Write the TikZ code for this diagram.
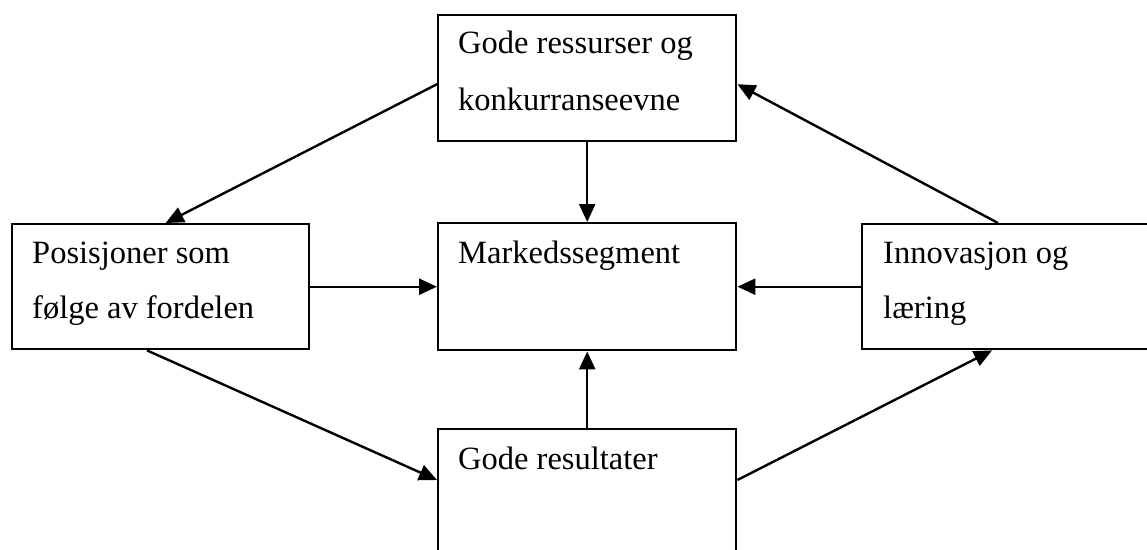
\documentclass[tikz,border=0pt]{standalone}
\usepackage{fontspec}
\setmainfont{Liberation Serif}
\usetikzlibrary{arrows.meta}
\begin{document}
\begin{tikzpicture}[x=1pt,y=-1pt,
  box/.style={draw, line width=2.4pt, rectangle, inner sep=0pt, anchor=north west},
  lbl/.style={inner sep=0pt, anchor=base west, font=\fontsize{32.5}{38}\selectfont},
  conn/.style={line width=2.4pt, -{Triangle[length=18pt,width=16pt]}}]
\clip (0,0) rectangle (1147,549);
\fill[white] (0,0) rectangle (1147,549);
\node[box, minimum width=298, minimum height=126] (top) at (437,14) {};
\node[box, minimum width=297, minimum height=125] (left) at (11,223) {};
\node[box, minimum width=298, minimum height=127] (center) at (437,222) {};
\node[box, minimum width=295, minimum height=125] (right) at (861,223) {};
\node[box, minimum width=298, minimum height=140] (bottom) at (437,428) {};
\node[lbl] (t1) at (458,53) {Gode ressurser og};
\node[lbl] (t2) at (458,110) {konkurranseevne};
\node[lbl] (l1) at (32,263) {Posisjoner som};
\node[lbl] (l2) at (32,318) {følge av fordelen};
\node[lbl] (c1) at (458,263) {Markedssegment};
\node[lbl] (r1) at (883,263) {Innovasjon og};
\node[lbl] (r2) at (883,318) {læring};
\node[lbl] (b1) at (458,469) {Gode resultater};
\draw[conn] ([yshift=-6pt]top.west) -- ([xshift=5pt]left.north);
\draw[conn] (top.south) -- (center.north);
\draw[conn] ([xshift=137pt]right.north west) -- ([yshift=-6pt]top.east);
\draw[conn] (left.east) -- (center.west);
\draw[conn] (right.west) -- (center.east);
\draw[conn] ([xshift=136pt]left.south west) -- ([yshift=-52pt]bottom.north west);
\draw[conn] (bottom.north) -- (center.south);
\draw[conn] ([yshift=-52pt]bottom.north east) -- ([xshift=131pt]right.south west);
\end{tikzpicture}
\end{document}
